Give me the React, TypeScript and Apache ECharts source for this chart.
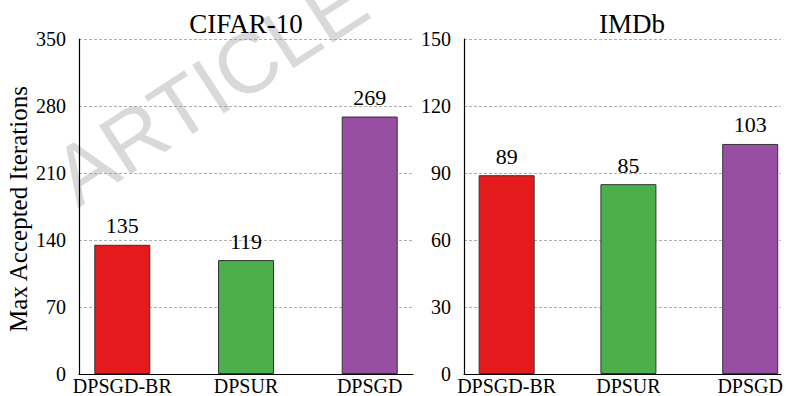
import React, { useEffect, useRef } from "react";
import * as echarts from "echarts";

const categories = ["DPSGD-BR", "DPSUR", "DPSGD"];
const cifarValues = [135, 119, 269];
const imdbValues = [89, 85, 103];
const barColors = ["#e41a1c", "#4daf4a", "#984ea3"];
const cifarTicks = [0, 70, 140, 210, 280, 350];
const imdbTicks = [0, 30, 60, 90, 120, 150];
const panelTitles = ["CIFAR-10", "IMDb"];
const yName = "Max Accepted Iterations";
const watermark = "ARTICLE";

const SERIF = "Liberation Serif";

export default function App() {
  const ref = useRef<HTMLDivElement>(null);
  useEffect(() => {
    if (!ref.current) return;
    const chart = echarts.init(ref.current, null, { renderer: "svg" });
    const mkX = (gi: number, max: number) => ({
      type: "value",
      gridIndex: gi,
      min: -0.35,
      max,
      axisLine: { show: true, onZero: false, lineStyle: { color: "#000", width: 1.2 } },
      axisTick: { show: false },
      splitLine: { show: false },
      axisLabel: {
        customValues: [0, 1, 2],
        formatter: (v: number) => categories[Math.round(v)] ?? "",
        fontFamily: SERIF,
        fontSize: 20,
        color: "#000",
        margin: 2,
      },
    });
    const mkY = (gi: number, ticks: number[]) => ({
      type: "value",
      gridIndex: gi,
      min: ticks[0],
      max: ticks[ticks.length - 1],
      interval: ticks[1] - ticks[0],
      axisLine: { show: true, onZero: false, lineStyle: { color: "#000", width: 1.2 } },
      axisTick: { show: false },
      splitLine: { show: true, lineStyle: { color: "#999", type: [3, 2], width: 0.8 } },
      axisLabel: { fontFamily: SERIF, fontSize: 20, color: "#000", margin: 13 },
    });
    const mkSeries = (gi: number, vals: number[]) => ({
      type: "bar",
      xAxisIndex: gi,
      yAxisIndex: gi,
      barWidth: 56,
      data: vals.map((v, i) => ({ value: [i, v], itemStyle: { color: barColors[i] } })),
      itemStyle: { borderColor: "#333", borderWidth: 1 },
      label: {
        show: true,
        position: "top",
        distance: 8,
        fontFamily: SERIF,
        fontSize: 22,
        color: "#000",
        formatter: (p: any) => String(p.value[1]),
      },
    });
    chart.setOption({
      animation: false,
      backgroundColor: "#fff",
      textStyle: { fontFamily: SERIF },
      grid: [
        { left: 79, top: 39, width: 334, height: 339 },
        { left: 464, top: 39, width: 322, height: 339 },
      ],
      xAxis: [mkX(0, 2.35), mkX(1, 2.25)],
      yAxis: [mkY(0, cifarTicks), mkY(1, imdbTicks)],
      series: [mkSeries(0, cifarValues), mkSeries(1, imdbValues)],
      graphic: [
        {
          type: "text",
          x: 210,
          y: 88,
          rotation: 0.576,
          z: -10,
          silent: true,
          style: {
            text: watermark,
            fontFamily: "Liberation Sans",
            fontSize: 84,
            fill: "#d9d9d9",
            textAlign: "center",
            textVerticalAlign: "middle",
          },
        },
        {
          type: "text",
          x: 246,
          y: 24,
          style: { text: panelTitles[0], fontFamily: SERIF, fontSize: 27, fill: "#000", textAlign: "center", textVerticalAlign: "middle" },
        },
        {
          type: "text",
          x: 632,
          y: 24,
          style: { text: panelTitles[1], fontFamily: SERIF, fontSize: 27, fill: "#000", textAlign: "center", textVerticalAlign: "middle" },
        },
        {
          type: "text",
          x: 18,
          y: 209,
          rotation: Math.PI / 2,
          style: { text: yName, fontFamily: SERIF, fontSize: 25, fill: "#000", textAlign: "center", textVerticalAlign: "middle" },
        },
      ],
    });
    return () => chart.dispose();
  }, []);
  return (
    <div
      ref={ref}
      style={{ position: "fixed", left: 0, top: 0, width: 786, height: 396 }}
    />
  );
}
